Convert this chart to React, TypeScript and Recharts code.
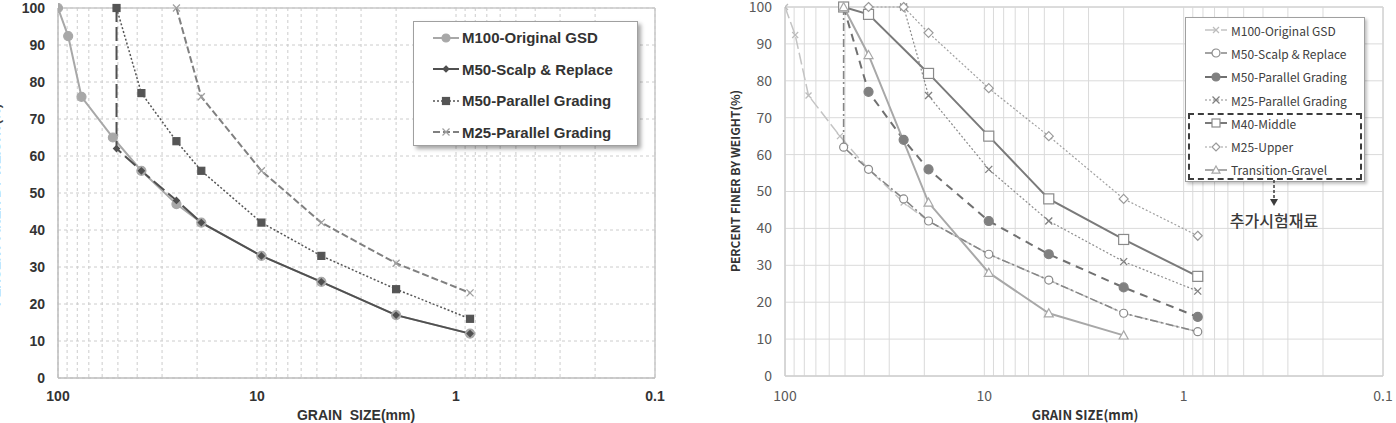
import React from 'react';
import { LineChart, Line, XAxis, YAxis, CartesianGrid, Legend, ReferenceLine } from 'recharts';

// ---------- axis values ----------
const xTicks = [0.1, 0.2, 0.3, 0.4, 0.5, 0.6, 0.7, 0.8, 0.9, 1, 2, 3, 4, 5, 6, 7, 8, 9, 10, 20, 30, 40, 50, 60, 70, 80, 90, 100];
const xMajorTicks = [100, 10, 1, 0.1];
const yTicks = [0, 10, 20, 30, 40, 50, 60, 70, 80, 90, 100];

// ---------- series (grain size mm / percent finer) ----------
const m100Size = [100, 88.9, 76.2, 53, 38.1, 25.4, 19.05, 9.5, 4.75, 2.0, 0.85];
const m100Pct = [100, 92.4, 76, 65, 56, 47, 42, 33, 26, 17, 12];

const m50ScalpSize = [50.8, 50.8, 38.1, 25.4, 19.05, 9.5, 4.75, 2.0, 0.85];
const m50ScalpPct = [100, 62, 56, 48, 42, 33, 26, 17, 12];

const m50ParSize = [50.8, 38.1, 25.4, 19.05, 9.5, 4.75, 2.0, 0.85];
const m50ParPct = [100, 77, 64, 56, 42, 33, 24, 16];

const m25ParSize = [25.4, 19.05, 9.5, 4.75, 2.0, 0.85];
const m25ParPct = [100, 76, 56, 42, 31, 23];

const m40MidSize = [50.8, 38.1, 19.05, 9.5, 4.75, 2.0, 0.85];
const m40MidPct = [100, 98, 82, 65, 48, 37, 27];

const m25UpSize = [38.1, 25.4, 19.05, 9.5, 4.75, 2.0, 0.85];
const m25UpPct = [100, 100, 93, 78, 65, 48, 38];

const transSize = [50.8, 38.1, 19.05, 9.5, 4.75, 2.0];
const transPct = [100, 87, 47, 28, 17, 11];

const zip = (s: number[], p: number[]) => s.map((x, i) => ({ x, y: p[i] }));

type Marker = 'circle' | 'square' | 'diamond' | 'x' | 'triangle' | 'none';
interface Series {
  name: string;
  data: { x: number; y: number }[];
  stroke: string;
  width: number;
  dash?: string;
  marker: Marker;
  mFill: string;
  mStroke: string;
  mSize: number;
}

function drawMarker(m: Marker, cx: number, cy: number, size: number, fill: string, stroke: string, key?: any) {
  const s = size;
  switch (m) {
    case 'circle':
      return <circle key={key} cx={cx} cy={cy} r={s} fill={fill} stroke={stroke} strokeWidth={1.2} />;
    case 'square':
      return <rect key={key} x={cx - s} y={cy - s} width={2 * s} height={2 * s} fill={fill} stroke={stroke} strokeWidth={1.2} />;
    case 'diamond':
      return <polygon key={key} points={`${cx},${cy - s} ${cx + s},${cy} ${cx},${cy + s} ${cx - s},${cy}`} fill={fill} stroke={stroke} strokeWidth={1.2} />;
    case 'triangle':
      return <polygon key={key} points={`${cx},${cy - s} ${cx + s},${cy + s * 0.8} ${cx - s},${cy + s * 0.8}`} fill={fill} stroke={stroke} strokeWidth={1.2} />;
    case 'x':
      return (
        <g key={key} stroke={stroke} strokeWidth={1.3}>
          <line x1={cx - s} y1={cy - s} x2={cx + s} y2={cy + s} />
          <line x1={cx - s} y1={cy + s} x2={cx + s} y2={cy - s} />
        </g>
      );
    default:
      return <g key={key} />;
  }
}

const leftSeries: Series[] = [
  { name: 'M100-Original GSD', data: zip(m100Size, m100Pct), stroke: '#a8a8a8', width: 2, marker: 'circle', mFill: '#a8a8a8', mStroke: '#a8a8a8', mSize: 4.5 },
  { name: 'M50-Scalp & Replace', data: zip(m50ScalpSize, m50ScalpPct), stroke: '#505050', width: 2, dash: '14 5 14 5 14 5 14 5 14 5 14 5 14 5 14 5 14 5 14 5 14 5 14 5 3000 0', marker: 'diamond', mFill: '#505050', mStroke: '#505050', mSize: 3 },
  { name: 'M50-Parallel Grading', data: zip(m50ParSize, m50ParPct), stroke: '#555555', width: 1.5, dash: '2 2', marker: 'square', mFill: '#555555', mStroke: '#555555', mSize: 3.5 },
  { name: 'M25-Parallel Grading', data: zip(m25ParSize, m25ParPct), stroke: '#808080', width: 2, dash: '7 3', marker: 'x', mFill: 'none', mStroke: '#a0a0a0', mSize: 3.5 },
];

const rightSeries: Series[] = [
  { name: 'M100-Original GSD', data: zip(m100Size, m100Pct), stroke: '#c4c4c4', width: 1.5, dash: '12 4', marker: 'x', mFill: 'none', mStroke: '#bdbdbd', mSize: 3 },
  { name: 'M50-Scalp & Replace', data: zip(m50ScalpSize, m50ScalpPct), stroke: '#858585', width: 1.6, dash: '8 3 2 3', marker: 'circle', mFill: '#ffffff', mStroke: '#8a8a8a', mSize: 4 },
  { name: 'M50-Parallel Grading', data: zip(m50ParSize, m50ParPct), stroke: '#707070', width: 2, dash: '8 6', marker: 'circle', mFill: '#808080', mStroke: '#808080', mSize: 4.5 },
  { name: 'M25-Parallel Grading', data: zip(m25ParSize, m25ParPct), stroke: '#8c8c8c', width: 1.2, dash: '2 2', marker: 'x', mFill: 'none', mStroke: '#808080', mSize: 3.5 },
  { name: 'M40-Middle', data: zip(m40MidSize, m40MidPct), stroke: '#7a7a7a', width: 2, marker: 'square', mFill: '#ffffff', mStroke: '#8a8a8a', mSize: 5 },
  { name: 'M25-Upper', data: zip(m25UpSize, m25UpPct), stroke: '#a0a0a0', width: 1.2, dash: '2 2', marker: 'diamond', mFill: '#ffffff', mStroke: '#9a9a9a', mSize: 4.5 },
  { name: 'Transition-Gravel', data: zip(transSize, transPct), stroke: '#a8a8a8', width: 2, marker: 'triangle', mFill: '#ffffff', mStroke: '#a8a8a8', mSize: 4.5 },
];

const fmtX = (v: number) => {
  const i = xMajorTicks.findIndex((t) => Math.abs(t - v) < 1e-9);
  return i >= 0 ? String(xMajorTicks[i]) : '';
};

function LegendIcon({ s, w }: { s: Series; w: number }) {
  return (
    <svg width={w} height={12} style={{ display: 'block' }}>
      <line x1={0} y1={6} x2={w} y2={6} stroke={s.stroke} strokeWidth={s.width} strokeDasharray={s.dash && s.dash.length < 12 ? s.dash : undefined} />
      {drawMarker(s.marker, w / 2, 6, Math.min(s.mSize, 4), s.mFill, s.mStroke)}
    </svg>
  );
}

const LeftLegend = () => (
  <div
    style={{
      width: 225,
      height: 125,
      boxSizing: 'border-box',
      border: '1px solid #a0a0a0',
      background: '#fff',
      boxShadow: '3px 3px 4px rgba(0,0,0,0.35)',
      fontFamily: '"Liberation Sans", Arial, sans-serif',
      fontWeight: 'bold',
      fontSize: 15,
      color: '#333',
      paddingTop: 0,
    }}
  >
    {leftSeries.map((s) => (
      <div key={s.name} style={{ height: 31.5, display: 'flex', alignItems: 'center' }}>
        <div style={{ marginLeft: 19, width: 26 }}>
          <LegendIcon s={s} w={26} />
        </div>
        <span style={{ marginLeft: 3, whiteSpace: 'nowrap' }}>{s.name}</span>
      </div>
    ))}
  </div>
);

const RightLegend = () => (
  <div style={{ position: 'relative', width: 180, height: 165 }}>
    <div
      style={{
        width: 180,
        height: 165,
        boxSizing: 'border-box',
        border: '1px solid #a0a0a0',
        background: '#fff',
        boxShadow: '2px 2px 3px rgba(0,0,0,0.25)',
        fontFamily: '"Noto Sans CJK KR", "Noto Sans", sans-serif',
        fontSize: 12,
        color: '#404040',
        paddingTop: 0.5,
      }}
    >
      {rightSeries.map((s) => (
        <div key={s.name} style={{ height: 23.3, display: 'flex', alignItems: 'center' }}>
          <div style={{ marginLeft: 19, width: 22 }}>
            <LegendIcon s={s} w={22} />
          </div>
          <span style={{ marginLeft: 4, whiteSpace: 'nowrap' }}>{s.name}</span>
        </div>
      ))}
    </div>
    <div
      style={{
        position: 'absolute',
        left: 3,
        top: 96,
        width: 174,
        height: 67,
        boxSizing: 'border-box',
        border: '2px dashed #3c3c3c',
      }}
    />
    <svg style={{ position: 'absolute', left: 83, top: 163, overflow: 'visible' }} width={12} height={28}>
      <line x1={6} y1={0} x2={6} y2={20} stroke="#3c3c3c" strokeWidth={1.5} strokeDasharray="3 2" />
      <polygon points="2,19 10,19 6,26" fill="#3c3c3c" />
    </svg>
    <div
      style={{
        position: 'absolute',
        left: 29,
        top: 191,
        width: 120,
        textAlign: 'center',
        fontFamily: '"Noto Sans CJK KR", sans-serif',
        fontSize: 16,
        fontWeight: 500,
        color: '#3a3a3a',
        whiteSpace: 'nowrap',
      }}
    >
      추가시험재료
    </div>
  </div>
);

function renderSeries(list: Series[]) {
  return list.map((s) => (
    <Line
      key={s.name}
      data={s.data}
      dataKey="y"
      name={s.name}
      type="linear"
      stroke={s.stroke}
      strokeWidth={s.width}
      strokeDasharray={s.dash}
      isAnimationActive={false}
      activeDot={false}
      legendType="none"
      dot={(p: any) => drawMarker(s.marker, p.cx, p.cy, s.mSize, s.mFill, s.mStroke, `${s.name}-${p.index}`)}
    />
  ));
}

export default function App() {
  const leftTick = { fontFamily: '"Liberation Sans", Arial, sans-serif', fontWeight: 'bold', fontSize: 14, fill: '#333' };
  const rightTick = { fontFamily: '"Noto Sans CJK KR", "Noto Sans", sans-serif', fontSize: 14, fill: '#595959' };
  return (
    <div style={{ position: 'absolute', left: 0, top: 0, width: 1396, height: 423, background: '#fff', overflow: 'hidden' }}>
      {/* Left chart */}
      <div style={{ position: 'absolute', left: 0, top: 0 }}>
        <LineChart width={690} height={423} margin={{ top: 8, right: 35, bottom: 0, left: 0 }}>
          <CartesianGrid stroke="#cccccc" strokeDasharray="3 3" />
          <XAxis
            dataKey="x"
            type="number"
            scale="log"
            domain={[0.1, 100]}
            reversed
            allowDataOverflow
            ticks={xTicks}
            interval={0}
            tickFormatter={fmtX}
            tickLine={false}
            tickSize={0}
            tickMargin={13}
            height={45}
            axisLine={{ stroke: '#bdbdbd', strokeWidth: 1.5 }}
            tick={leftTick}
          />
          <YAxis
            type="number"
            domain={[0, 100]}
            ticks={yTicks}
            interval={0}
            width={58}
            tickLine={false}
            tickSize={0}
            tickMargin={13}
            axisLine={{ stroke: '#bdbdbd', strokeWidth: 1.5 }}
            tick={leftTick}
          />
          <ReferenceLine y={100} stroke="#c8c8c8" strokeWidth={1.5} />
          <ReferenceLine x={0.1} stroke="#c8c8c8" strokeWidth={1.5} />
          {renderSeries(leftSeries)}
          <Legend
            layout="vertical"
            align="center"
            verticalAlign="middle"
            content={() => <LeftLegend />}
            wrapperStyle={{ left: 413, top: 21, width: 225, height: 125 }}
          />
        </LineChart>
      </div>

      {/* Right chart */}
      <div style={{ position: 'absolute', left: 700, top: 0 }}>
        <LineChart width={696} height={423} margin={{ top: 7, right: 13, bottom: 0, left: 0 }}>
          <CartesianGrid stroke="#dadada" />
          <XAxis
            dataKey="x"
            type="number"
            scale="log"
            domain={[0.1, 100]}
            reversed
            allowDataOverflow
            ticks={xTicks}
            interval={0}
            tickFormatter={fmtX}
            tickLine={false}
            tickSize={0}
            tickMargin={15}
            height={47}
            axisLine={{ stroke: '#cfcfcf', strokeWidth: 1.5 }}
            tick={rightTick}
          />
          <YAxis
            type="number"
            domain={[0, 100]}
            ticks={yTicks}
            interval={0}
            width={85}
            tickLine={false}
            tickSize={0}
            tickMargin={13}
            axisLine={{ stroke: '#cfcfcf', strokeWidth: 1.5 }}
            tick={rightTick}
          />
          <ReferenceLine y={100} stroke="#d6d6d6" strokeWidth={1.5} />
          <ReferenceLine x={0.1} stroke="#d6d6d6" strokeWidth={1.5} />
          {renderSeries(rightSeries)}
          <Legend
            layout="vertical"
            align="center"
            verticalAlign="middle"
            content={() => <RightLegend />}
            wrapperStyle={{ left: 485, top: 17, width: 180, height: 165 }}
          />
        </LineChart>
      </div>

      {/* Axis titles */}
      <div
        style={{
          position: 'absolute',
          left: -154,
          top: 197,
          width: 300,
          textAlign: 'center',
          transform: 'rotate(-90deg)',
          fontFamily: '"Liberation Sans", Arial, sans-serif',
          fontWeight: 'bold',
          fontSize: 13,
          color: '#444',
          lineHeight: '16px',
          whiteSpace: 'nowrap',
        }}
      >
        PERCENT FINER BY WEIGHT(%)
      </div>
      <div
        style={{
          position: 'absolute',
          left: 206,
          top: 408,
          width: 300,
          textAlign: 'center',
          fontFamily: '"Liberation Sans", Arial, sans-serif',
          fontWeight: 'bold',
          fontSize: 14,
          color: '#333',
          lineHeight: '14px',
          whiteSpace: 'pre',
        }}
      >
        {'GRAIN  SIZE(mm)'}
      </div>
      <div
        style={{
          position: 'absolute',
          left: 735 - 150,
          top: 173,
          width: 300,
          textAlign: 'center',
          transform: 'rotate(-90deg)',
          fontFamily: '"Noto Sans CJK KR", "Noto Sans", sans-serif',
          fontWeight: 'bold',
          fontSize: 12,
          color: '#333',
          lineHeight: '16px',
          whiteSpace: 'nowrap',
        }}
      >
        PERCENT FINER BY WEIGHT(%)
      </div>
      <div
        style={{
          position: 'absolute',
          left: 1085 - 150,
          top: 408,
          width: 300,
          textAlign: 'center',
          fontFamily: '"Noto Sans CJK KR", "Noto Sans", sans-serif',
          fontWeight: 'bold',
          fontSize: 13,
          color: '#333',
          lineHeight: '14px',
          whiteSpace: 'nowrap',
        }}
      >
        GRAIN SIZE(mm)
      </div>
    </div>
  );
}
